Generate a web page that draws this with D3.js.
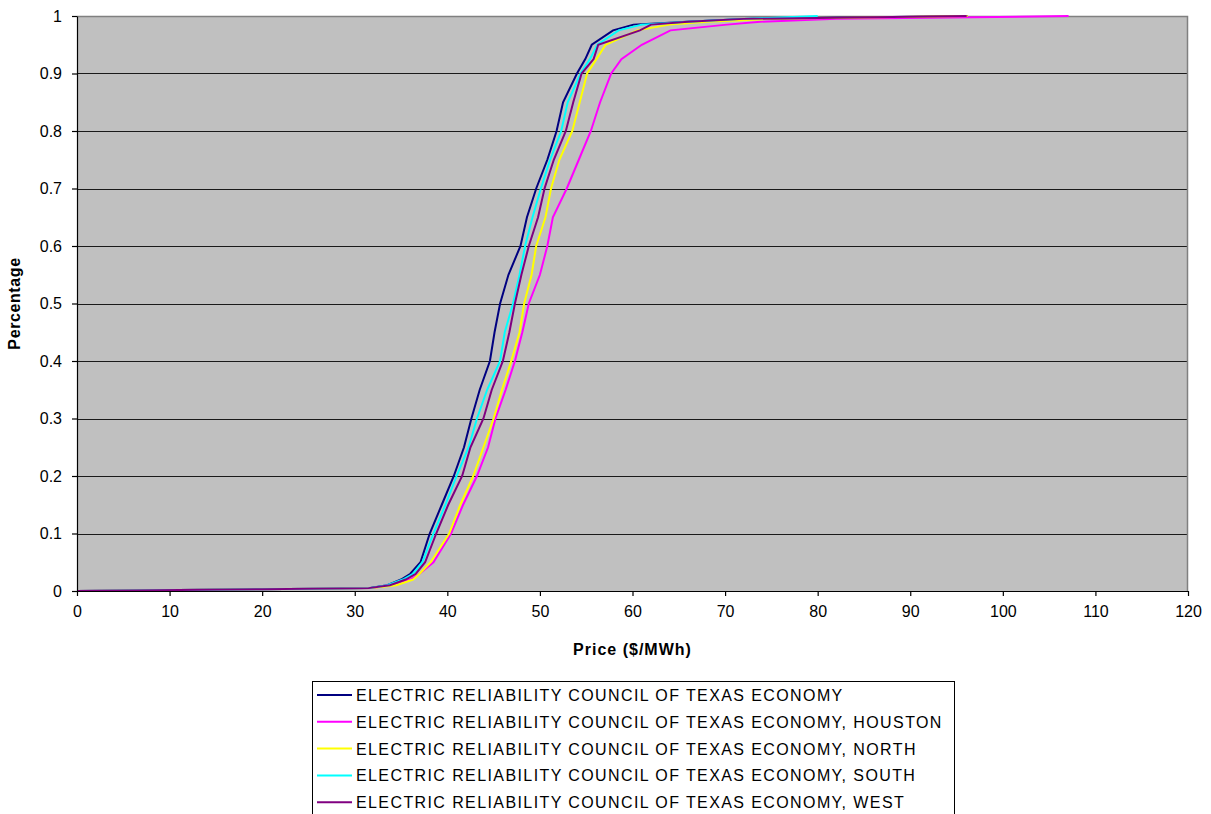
<!DOCTYPE html>
<html>
<head>
<meta charset="utf-8">
<script src="https://cdn.jsdelivr.net/npm/d3@7"></script>
<style>
  html, body { margin: 0; padding: 0; background: #ffffff; }
  svg { display: block; font-family: "Liberation Sans", Arial, sans-serif; }
</style>
</head>
<body>
<svg id="chart" width="1211" height="814"></svg>
<script>
// Cumulative share of days (y) at which the daily price is at or below x, per zone.
const levels = [0, 0.003, 0.005, 0.01, 0.02, 0.03, 0.05, 0.1, 0.15, 0.2, 0.25, 0.3, 0.35, 0.4, 0.45,
                0.5, 0.55, 0.6, 0.65, 0.7, 0.75, 0.8, 0.85, 0.9, 0.925, 0.95, 0.975, 0.985, 0.99, 0.995, 1];

const seriesNames = [
  "ELECTRIC RELIABILITY COUNCIL OF TEXAS ECONOMY",
  "ELECTRIC RELIABILITY COUNCIL OF TEXAS ECONOMY, HOUSTON",
  "ELECTRIC RELIABILITY COUNCIL OF TEXAS ECONOMY, NORTH",
  "ELECTRIC RELIABILITY COUNCIL OF TEXAS ECONOMY, SOUTH",
  "ELECTRIC RELIABILITY COUNCIL OF TEXAS ECONOMY, WEST"
];
const seriesColors = ["#000080", "#ff00ff", "#ffff00", "#00ffff", "#800080"];

// Price ($/MWh) reached at each cumulative level
const pricesErcot   = [0, 20, 31.5, 33.5, 35.0, 36.0, 37.1, 38.1, 39.4, 40.7, 41.8, 42.6, 43.5, 44.6, 45.1,
                       45.7, 46.6, 47.9, 48.6, 49.6, 50.8, 51.8, 52.5, 54.0, 54.9, 55.6, 57.9, 60.1, 65.9, 72.0, 96.2];
const pricesHouston = [0, 20, 32.0, 33.5, 36.0, 37.0, 38.5, 40.4, 41.7, 43.2, 44.4, 45.2, 46.3, 47.3, 48.1,
                       48.8, 50.0, 50.8, 51.4, 52.9, 54.2, 55.5, 56.5, 57.7, 58.8, 61.0, 64.1, 70.2, 73.8, 82.0, 107.1];
const pricesNorth   = [0, 20, 31.8, 34.5, 36.3, 37.0, 38.2, 40.2, 41.4, 42.8, 43.9, 45.0, 45.9, 46.9, 47.8,
                       48.3, 49.1, 49.6, 50.6, 51.2, 52.1, 53.5, 54.3, 55.1, 56.1, 57.1, 60.5, 64.0, 68.0, 75.0, 96.2];
const pricesSouth   = [0, 20, 31.6, 33.5, 35.2, 36.3, 37.3, 38.5, 39.8, 41.0, 42.3, 43.2, 44.3, 45.7, 46.2,
                       47.1, 47.8, 48.4, 49.2, 50.1, 51.1, 52.3, 53.0, 54.4, 55.4, 56.2, 58.5, 61.0, 66.0, 72.0, 80.0];
const pricesWest    = [0, 20, 31.5, 33.8, 35.5, 36.6, 37.6, 38.8, 40.1, 41.6, 42.5, 43.9, 44.8, 46.0, 46.7,
                       47.3, 48.0, 48.8, 49.8, 50.5, 51.5, 52.8, 53.6, 54.5, 55.8, 56.3, 60.8, 62.0, 66.0, 72.0, 96.1];

const xTicks = [0, 10, 20, 30, 40, 50, 60, 70, 80, 90, 100, 110, 120];
const yTicks = [0, 0.1, 0.2, 0.3, 0.4, 0.5, 0.6, 0.7, 0.8, 0.9, 1];

const xTitle = "Price ($/MWh)";
const yTitle = "Percentage";

const allPrices = [pricesErcot, pricesHouston, pricesNorth, pricesSouth, pricesWest];
const series = seriesNames.map((name, i) => ({
  name,
  color: seriesColors[i],
  points: allPrices[i].map((p, j) => ({ x: p, y: levels[j] }))
}));

const svg = d3.select("#chart");
const plot = { left: 77, right: 1188, top: 16, bottom: 591 };

const x = d3.scaleLinear().domain([0, 120]).range([plot.left, plot.right]);
const y = d3.scaleLinear().domain([0, 1]).range([plot.bottom, plot.top]);

// Plot background
svg.append("rect")
  .attr("x", plot.left).attr("y", plot.top)
  .attr("width", plot.right - plot.left).attr("height", plot.bottom - plot.top)
  .attr("fill", "#c0c0c0");

// Horizontal gridlines
svg.append("g")
  .selectAll("line")
  .data(yTicks.filter(t => t > 0 && t < 1))
  .join("line")
  .attr("x1", plot.left).attr("x2", plot.right)
  .attr("y1", d => Math.round(y(d)) + 0.5).attr("y2", d => Math.round(y(d)) + 0.5)
  .attr("stroke", "#1a1a1a").attr("stroke-width", 1.2);

// Top and right frame
svg.append("path")
  .attr("d", `M${plot.left},${plot.top + 0.5}H${plot.right - 0.5}V${plot.bottom}`)
  .attr("fill", "none").attr("stroke", "#808080").attr("stroke-width", 1.5);

// Curves
const line = d3.line().x(d => x(d.x)).y(d => y(d.y)).curve(d3.curveLinear);
svg.append("g")
  .selectAll("path")
  .data(series)
  .join("path")
  .attr("d", d => line(d.points))
  .attr("fill", "none")
  .attr("stroke", d => d.color)
  .attr("stroke-width", 2)
  .attr("stroke-linejoin", "miter");

// Axes
const xAxis = d3.axisBottom(x).tickValues(xTicks).tickFormat(d3.format("d"))
  .tickSizeInner(5).tickSizeOuter(0).tickPadding(10);
const yAxis = d3.axisLeft(y).tickValues(yTicks).tickFormat(d => d3.format("~g")(d))
  .tickSizeInner(5).tickSizeOuter(0).tickPadding(10);

const gx = svg.append("g").attr("transform", `translate(0,${plot.bottom})`).call(xAxis);
const gy = svg.append("g").attr("transform", `translate(${plot.left},0)`).call(yAxis);
[gx, gy].forEach(g => {
  g.selectAll("path.domain").attr("stroke", "#000000").attr("stroke-width", 1.2);
  g.selectAll(".tick line").attr("stroke", "#000000").attr("stroke-width", 1.2);
  g.selectAll("text").attr("fill", "#000000")
    .attr("font-family", "'Liberation Sans', Arial, sans-serif").attr("font-size", 16);
});

// Axis titles
svg.append("text")
  .attr("x", (plot.left + plot.right) / 2).attr("y", 655)
  .attr("text-anchor", "middle")
  .attr("font-size", 16).attr("font-weight", "bold")
  .attr("letter-spacing", "1px")
  .text(xTitle);
svg.append("text")
  .attr("transform", `translate(20,${(plot.top + plot.bottom) / 2}) rotate(-90)`)
  .attr("text-anchor", "middle")
  .attr("font-size", 16).attr("font-weight", "bold")
  .attr("letter-spacing", "0.6px")
  .text(yTitle);

// Legend
const legend = svg.append("g");
legend.append("rect")
  .attr("x", 312.5).attr("y", 681.5).attr("width", 642).attr("height", 140)
  .attr("fill", "#ffffff").attr("stroke", "#000000").attr("stroke-width", 1);
const rowH = 26.8;
const rows = legend.selectAll("g.row").data(series).join("g")
  .attr("class", "row")
  .attr("transform", (d, i) => `translate(0,${695 + i * rowH})`);
rows.append("line")
  .attr("x1", 317).attr("x2", 352).attr("y1", 0).attr("y2", 0)
  .attr("stroke", d => d.color).attr("stroke-width", 2);
rows.append("text")
  .attr("x", 356).attr("y", 6)
  .attr("font-size", 16)
  .attr("letter-spacing", "1.4px")
  .text(d => d.name);
</script>
</body>
</html>
